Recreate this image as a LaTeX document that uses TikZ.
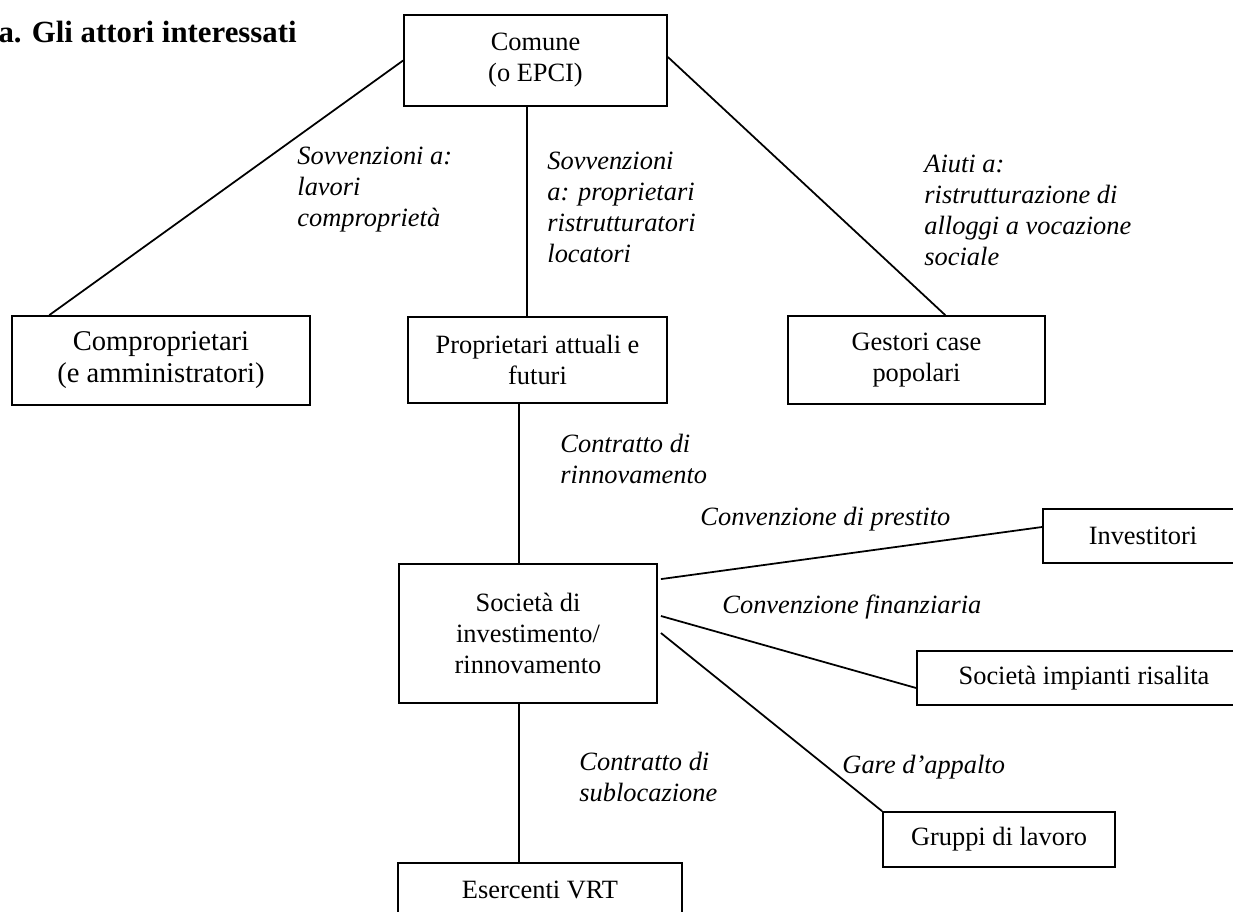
\documentclass[tikz,border=0pt]{standalone}
\usepackage{fontspec}
\setmainfont{Liberation Serif}
\usetikzlibrary{calc}
\begin{document}
\begin{tikzpicture}[x=0.4545pt,y=-0.4545pt,
  box/.style={draw,line width=0.8pt,inner sep=0pt,align=center,font=\fontsize{12}{14.1}\selectfont},
  lbl/.style={inner sep=0pt,anchor=north west,align=left,font=\itshape\fontsize{12}{14.1}\selectfont,execute at begin node=\strut},
  conn/.style={line width=0.8pt}]
\useasboundingbox (0,0) rectangle (1233,912);

% title
\node[inner sep=0pt,anchor=base east,font=\bfseries\fontsize{14}{16}\selectfont] (title) at (297,43) {a. Gli attori interessati};

% boxes
\node[box,minimum width=119.5pt,minimum height=41.4pt] (comune) at (535.5,60.5) {Comune\\(o EPCI)};
\node[box,minimum width=135.4pt,minimum height=40.5pt,font=\fontsize{13}{14.5}\selectfont] (compr) at (161,360.5) {Comproprietari\\(e amministratori)};
\node[box,minimum width=117.7pt,minimum height=39.1pt] (prop) at (537.5,360) {Proprietari attuali e\\futuri};
\node[box,minimum width=116.8pt,minimum height=40pt] (gest) at (916.5,360) {Gestori case\\popolari};
\node[box,minimum width=117.3pt,minimum height=63.2pt] (soc) at (528,633.5) {Società di\\investimento/\\rinnovamento};
\node[box,minimum width=90.9pt,minimum height=24.5pt] (inv) at (1143,536) {Investitori};
\node[box,minimum width=151.8pt,minimum height=24.5pt] (imp) at (1084,678) {Società impianti risalita};
\node[box,minimum width=105.5pt,minimum height=25pt] (grup) at (999,839.5) {Gruppi di lavoro};
\node[box,minimum width=129pt,minimum height=24.5pt] (eser) at (540,890) {Esercenti VRT};

% connectors
\draw[conn] (comune.west) -- ($(compr.north west)!0.1275!(compr.north east)$);
\coordinate (c1) at ($(comune.south)+(-8.5,0)$);
\draw[conn] (c1) -- (c1 |- prop.north);
\draw[conn] ($(comune.east)+(0,-3.5)$) -- ($(gest.north west)!0.611!(gest.north east)$);
\coordinate (c2) at ($(prop.south)+(-18.5,0)$);
\draw[conn] (c2) -- (c2 |- soc.north);
\draw[conn] ($(soc.north east)+(3,16)$) -- ($(inv.west)+(0,-9)$);
\draw[conn] ($(soc.east)+(3,-17.5)$) -- ($(imp.west)+(0,10)$);
\draw[conn] ($(soc.east)+(3,-0.5)$) -- (grup.north west);
\coordinate (c3) at ($(soc.south)+(-9,0)$);
\draw[conn] (c3) -- (c3 |- eser.north);

% labels
\begin{scope}
\clip (280,100) rectangle (480,233);
\node[lbl] (l1) at (297,146.3) {Sovvenzioni a:\\lavori\\comproprietà};
\end{scope}
\node[lbl] (l2) at (547,151.3) {Sovvenzioni\\a: proprietari\\ristrutturatori\\locatori};
\node[lbl] (l3) at (924,154.3) {Aiuti a:\\ristrutturazione di\\alloggi a vocazione\\sociale};
\node[lbl] (l4) at (560,433.3) {Contratto di\\rinnovamento};
\node[lbl] (l5) at (700,503.3) {Convenzione di prestito};
\node[lbl] (l6) at (722,591.3) {Convenzione finanziaria};
\node[lbl] (l7) at (842,751.3) {Gare d’appalto};
\node[lbl] (l8) at (579,751.3) {Contratto di\\sublocazione};
\end{tikzpicture}
\end{document}
